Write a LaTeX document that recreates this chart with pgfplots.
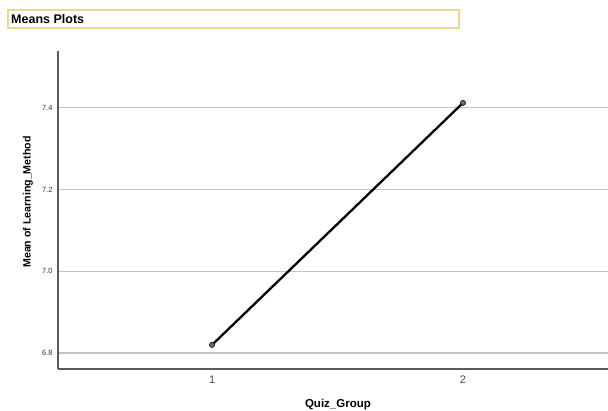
\documentclass[border=0pt]{standalone}
\usepackage{pgfplots}
\pgfplotsset{compat=1.18}
\usepackage{fontspec}
\setmainfont{Liberation Sans}
\definecolor{gridc}{RGB}{195,195,195}
\definecolor{axc}{RGB}{90,90,90}
\definecolor{boxc}{RGB}{240,215,140}
\begin{document}
\begin{tikzpicture}
\draw[boxc, line width=1.2pt, fill=white] (8pt,383pt) rectangle (459pt,401pt);
\node[anchor=west, inner sep=0pt, font=\fontsize{12.5}{14}\selectfont\bfseries] at (11pt,392pt) {Means Plots};
\begin{axis}[
  at={(58pt,42pt)}, anchor=south west,
  scale only axis, width=550pt, height=318pt,
  xmin=0.386, xmax=2.578, ymin=6.761, ymax=7.539,
  axis x line*=bottom, axis y line*=left,
  axis line style={axc, line width=1.3pt, -},
  xtick={1,2}, ytick={6.8,7.0,7.2,7.4},
  yticklabels={6.8,7.0,7.2,7.4},
  major tick length=0pt,
  ymajorgrids, grid style={gridc, line width=1.2pt},
  /pgf/number format/assume math mode=true,
  yticklabel style={font=\fontsize{7.5}{8}\selectfont, color=black!80, xshift=-2pt},
  xticklabel style={font=\fontsize{11}{12}\selectfont, color=black!70, yshift=-3pt},
  xlabel={Quiz\_Group}, ylabel={Mean of Learning\_Method},
  xlabel style={font=\fontsize{11.5}{12}\selectfont\bfseries, at={(axis description cs:0.509,-0.113)}, anchor=center},
  ylabel style={font=\fontsize{10.6}{12}\selectfont\bfseries, at={(axis description cs:-0.0545,0.525)}, anchor=center},
  clip=false,
]
\addplot[black, line width=2.3pt, mark=*, mark size=2.5pt, mark options={fill=black!55, draw=black!85, line width=0.9pt}]
  coordinates {(1,6.82) (2,7.412)};
\end{axis}
\pgfresetboundingbox
\useasboundingbox (0pt,0pt) rectangle (608pt,411pt);
\end{tikzpicture}
\end{document}
